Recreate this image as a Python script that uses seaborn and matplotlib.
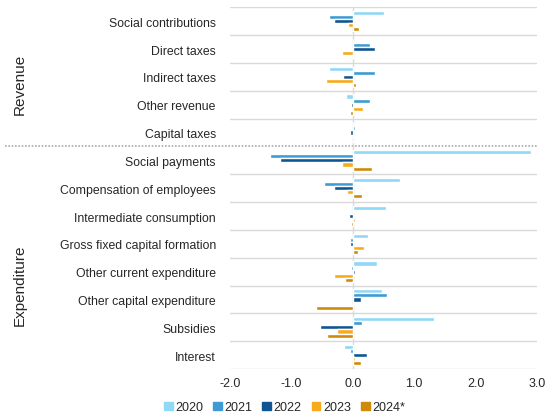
import numpy as np
import pandas as pd
import seaborn as sns
import matplotlib.pyplot as plt
from matplotlib.patches import Patch


categories = ["Social contributions", "Direct taxes", "Indirect taxes", "Other revenue",
              "Capital taxes", "Social payments", "Compensation of employees",
              "Intermediate consumption", "Gross fixed capital formation",
              "Other current expenditure", "Other capital expenditure", "Subsidies", "Interest"]
years = ["2020", "2021", "2022", "2023", "2024*"]

v2020 = [0.51, 0.0, -0.38, -0.11, 0.01, 2.90, 0.77, 0.54, 0.25, 0.39, 0.48, 1.33, -0.14]
v2021 = [-0.38, 0.28, 0.37, 0.28, 0.03, -1.35, -0.46, 0.0, -0.04, -0.02, 0.55, 0.15, -0.05]
v2022 = [-0.30, 0.37, -0.16, -0.02, -0.04, -1.19, -0.31, -0.06, -0.04, 0.03, 0.13, -0.54, 0.23]
v2023 = [-0.07, -0.18, -0.43, 0.17, 0.0, -0.17, -0.09, 0.03, 0.18, -0.31, 0.0, -0.26, 0.03]
v2024 = [0.11, 0.0, 0.06, -0.04, 0.0, 0.31, 0.15, -0.02, 0.08, -0.13, -0.60, -0.41, 0.13]

colors = ["#8fd8f6", "#3d9ad3", "#0f5592", "#f8aa1a", "#d08a0b"]

df = pd.DataFrame({"category": categories * 5,
                   "year": np.repeat(years, len(categories)),
                   "value": v2020 + v2021 + v2022 + v2023 + v2024})

sns.set_style("white")
plt.rcParams["font.family"] = ["Liberation Sans", "DejaVu Sans"]

fig = plt.figure(figsize=(5.47, 4.14), dpi=100)
ax = fig.add_axes([0.42, 0.106, 0.562, 0.874])

sns.barplot(data=df, y="category", x="value", hue="year", order=categories,
            hue_order=years, palette=colors, orient="h", width=0.74,
            saturation=1, ax=ax, legend=False, errorbar=None)

ax.set_xlim(-2, 3)
ax.set_ylim(len(categories) - 0.5, -0.5)
ax.set_xticks([-2, -1, 0, 1, 2, 3])
ax.set_xticklabels(["-2.0", "-1.0", "0.0", "1.0", "2.0", "3.0"], fontsize=9)
ax.tick_params(axis="y", labelsize=8.8, length=0, pad=10)
ax.tick_params(axis="x", length=0, pad=6)
ax.set_xlabel("")
ax.set_ylabel("")
for s in ax.spines.values():
    s.set_visible(False)

for i in range(len(categories) + 1):
    y = i - 0.5
    if i == 5:
        ax.plot([-5.65, 3.02], [y, y], color="#aaaaaa", lw=1.2, ls=(0, (1, 1)),
                clip_on=False, zorder=0)
    else:
        ax.axhline(y, color="#d9d9d9", lw=1, zorder=0)
ax.axvline(0, color="#d9d9d9", lw=1, zorder=0)

fig.text(0.037, 0.795, "Revenue", rotation=90, ha="center", va="center", fontsize=11)
fig.text(0.037, 0.31, "Expenditure", rotation=90, ha="center", va="center", fontsize=11)

handles = [Patch(color=c, label=y) for c, y in zip(colors, years)]
fig.legend(handles=handles, loc="lower center", bbox_to_anchor=(0.52, -0.028), ncol=5,
           frameon=False, fontsize=9, handlelength=0.7, handleheight=0.7,
           handletextpad=0.2, columnspacing=0.8)

fig.savefig("out.png", dpi=100)
